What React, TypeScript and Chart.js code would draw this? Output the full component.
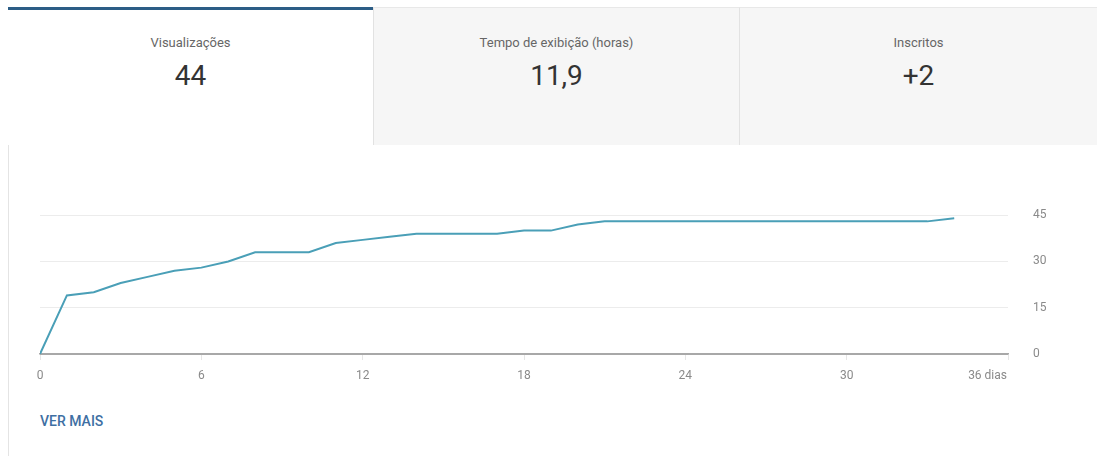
import React, { useEffect, useRef } from "react";
import { Chart, registerables } from "chart.js";

Chart.register(...registerables);

const tabLabels = ["Visualizações", "Tempo de exibição (horas)", "Inscritos"];
const tabValues = ["44", "11,9", "+2"];
const days = [0, 1, 2, 3, 4, 5, 6, 7, 8, 9, 10, 11, 12, 13, 14, 15, 16, 17, 18, 19, 20, 21, 22, 23, 24, 25, 26, 27, 28, 29, 30, 31, 32, 33, 34];
const views = [0, 19, 20, 23, 25, 27, 28, 30, 33, 33, 33, 36, 37, 38, 39, 39, 39, 39, 40, 40, 42, 43, 43, 43, 43, 43, 43, 43, 43, 43, 43, 43, 43, 43, 44];
const xTicks = [0, 6, 12, 18, 24, 30, 36];
const yTicks = [0, 15, 30, 45];
const unitLabel = "dias";

const FONT = "Roboto, 'Noto Sans', Arial, sans-serif";

const lastTickLabel = {
  id: "lastTickLabel",
  afterDraw(chart: any) {
    const xs = chart.scales.x;
    const last = xTicks[xTicks.length - 1];
    const ctx = chart.ctx;
    ctx.save();
    ctx.font = `12px ${FONT}`;
    ctx.fillStyle = "#8a8a8a";
    ctx.textAlign = "right";
    ctx.textBaseline = "top";
    ctx.fillText(`${last} ${unitLabel}`, xs.getPixelForValue(last) - 1, xs.top + 16);
    ctx.restore();
  },
};

export default function App() {
  const canvasRef = useRef<HTMLCanvasElement | null>(null);

  useEffect(() => {
    document.body.style.margin = "0";
    const canvas = canvasRef.current;
    if (!canvas) return;
    const chart = new Chart(canvas, {
      type: "line",
      data: {
        datasets: [
          {
            data: days.map((d, i) => ({ x: d, y: views[i] })),
            borderColor: "#4a9fb7",
            borderWidth: 2,
            pointRadius: 0,
            tension: 0,
            fill: false,
          },
        ],
      },
      options: {
        animation: false,
        responsive: false,
        maintainAspectRatio: false,
        layout: { padding: { left: 40, top: 8, right: 0, bottom: 0 } },
        plugins: { legend: { display: false }, tooltip: { enabled: false } },
        scales: {
          x: {
            type: "linear",
            min: 0,
            max: 36,
            afterBuildTicks: (axis: any) => {
              axis.ticks = xTicks.map((v) => ({ value: v }));
            },
            afterFit: (axis: any) => {
              axis.height = 36;
            },
            ticks: {
              color: "#8a8a8a",
              font: { family: FONT, size: 12 },
              padding: 9,
              maxRotation: 0,
              autoSkip: false,
              callback: (v: any) => (v === xTicks[xTicks.length - 1] ? "" : `${v}`),
            },
            grid: {
              drawOnChartArea: false,
              drawTicks: true,
              tickLength: 6,
              color: "#e6e6e6",
            },
            border: { display: true, color: "#a8a8a8", width: 1.5 },
          },
          y: {
            position: "right",
            min: 0,
            max: 45,
            afterBuildTicks: (axis: any) => {
              axis.ticks = yTicks.map((v) => ({ value: v }));
            },
            afterFit: (axis: any) => {
              axis.width = 89;
            },
            ticks: {
              color: "#8a8a8a",
              font: { family: FONT, size: 12 },
              padding: 25,
              crossAlign: "near",
            },
            grid: {
              drawTicks: false,
              color: (ctx: any) => (ctx.tick && ctx.tick.value === 0 ? "#a8a8a8" : "#ececec"),
              lineWidth: 1,
            },
            border: { display: false },
          },
        },
      },
      plugins: [lastTickLabel],
    });
    return () => chart.destroy();
  }, []);

  const tabStyle = (i: number): React.CSSProperties => {
    const lefts = [8, 373, 739];
    const rights = [373, 739, 1097];
    return {
      position: "absolute",
      left: lefts[i],
      top: 7,
      width: rights[i] - lefts[i],
      height: 138,
      background: i === 0 ? "#ffffff" : "#f6f6f6",
      borderTop: i === 0 ? "3px solid #2c5d86" : "1px solid #e8e8e8",
      borderLeft: i === 0 ? "none" : "1px solid #e2e2e2",
      boxSizing: "border-box",
      fontFamily: FONT,
    };
  };

  return (
    <div style={{ position: "relative", width: 1097, height: 456, background: "#fff", overflow: "hidden" }}>
      <div style={{ position: "absolute", left: 8, top: 7, width: 1, height: 449, background: "#e4e4e4" }} />
      {tabLabels.map((label, i) => (
        <div key={i} style={tabStyle(i)}>
          <div
            style={{
              position: "absolute",
              left: 0,
              right: 0,
              top: i === 0 ? 25 : 27,
              textAlign: "center",
              fontSize: 13,
              color: "#666666",
            }}
          >
            {label}
          </div>
          <div
            style={{
              position: "absolute",
              left: 0,
              right: 0,
              top: i === 0 ? 49 : 51,
              textAlign: "center",
              fontSize: 28,
              color: "#333333",
            }}
          >
            {tabValues[i]}
          </div>
        </div>
      ))}
      <canvas
        ref={canvasRef}
        width={1097}
        height={207}
        style={{ position: "absolute", left: 0, top: 183, width: 1097, height: 207 }}
      />
      <div
        style={{
          position: "absolute",
          left: 40,
          top: 413,
          fontFamily: FONT,
          fontWeight: 500,
          fontSize: 14,
          color: "#3e6fa3",
        }}
      >
        VER MAIS
      </div>
    </div>
  );
}
